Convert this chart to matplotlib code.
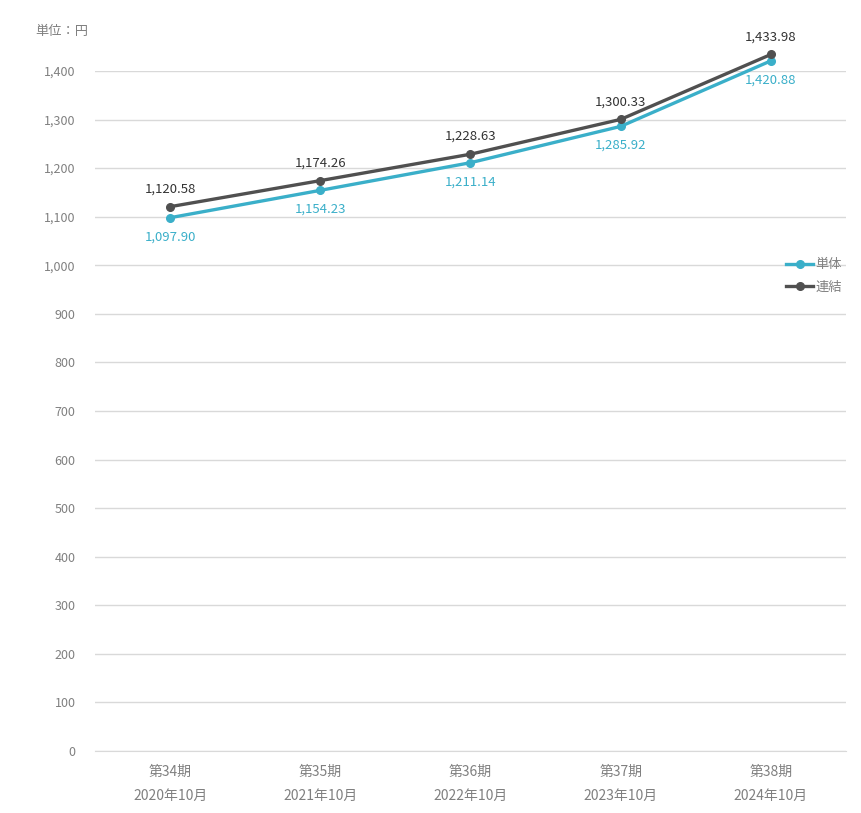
import matplotlib
matplotlib.use("Agg")
import matplotlib.pyplot as plt

plt.rcParams['font.family'] = ['Noto Sans CJK JP', 'DejaVu Sans']

periods = ['第34期\n2020年10月', '第35期\n2021年10月', '第36期\n2022年10月',
           '第37期\n2023年10月', '第38期\n2024年10月']
tanntai = [1097.90, 1154.23, 1211.14, 1285.92, 1420.88]
renketsu = [1120.58, 1174.26, 1228.63, 1300.33, 1433.98]
yticks = [0, 100, 200, 300, 400, 500, 600, 700, 800, 900, 1000, 1100, 1200, 1300, 1400]

teal = '#3aafc9'
dark = '#505050'
grid_c = '#d9d9d9'
tick_c = '#808080'

fig = plt.figure(figsize=(8.62, 8.13), dpi=100)
ax = fig.add_axes([0.1102, 0.0763, 0.8712, 0.8364])

x = list(range(len(periods)))
ax.plot(x, tanntai, color=teal, lw=2.4, marker='o', ms=5.5, label='単体', clip_on=False, zorder=3)
ax.plot(x, renketsu, color=dark, lw=2.4, marker='o', ms=5.5, label='連結', clip_on=False, zorder=4)

for i in x:
    ax.annotate(f'{renketsu[i]:,.2f}', (i, renketsu[i]), xytext=(0, 8), textcoords='offset points',
                ha='center', va='bottom', fontsize=9.5, color='#333333', annotation_clip=False)
    ax.annotate(f'{tanntai[i]:,.2f}', (i, tanntai[i]), xytext=(0, -9), textcoords='offset points',
                ha='center', va='top', fontsize=9.5, color=teal, annotation_clip=False)

ax.set_xlim(-0.5, len(periods) - 0.5)
ax.set_ylim(0, 1400)
ax.set_yticks(yticks)
ax.set_yticklabels([f'{v:,}' for v in yticks])
ax.set_xticks(x)
ax.set_xticklabels(periods, linespacing=1.9)
ax.yaxis.grid(True, color=grid_c, lw=1)
ax.set_axisbelow(True)
for s in ax.spines.values():
    s.set_visible(False)
ax.spines['bottom'].set_visible(True)
ax.spines['bottom'].set_color(grid_c)
ax.tick_params(axis='y', length=0, pad=14, labelsize=9, labelcolor=tick_c)
ax.tick_params(axis='x', length=0, pad=10, labelsize=10, labelcolor=tick_c)

fig.text(35 / 862, 1 - 31 / 813, '単位：円', fontsize=9.5, color=tick_c, va='center', ha='left')

ax.legend(loc='upper left', bbox_to_anchor=(0.905, 0.742), frameon=False, fontsize=9.5,
          labelcolor=tick_c, handlelength=2.0, handletextpad=0.2, labelspacing=0.7)

fig.savefig('out.png', dpi=100)
